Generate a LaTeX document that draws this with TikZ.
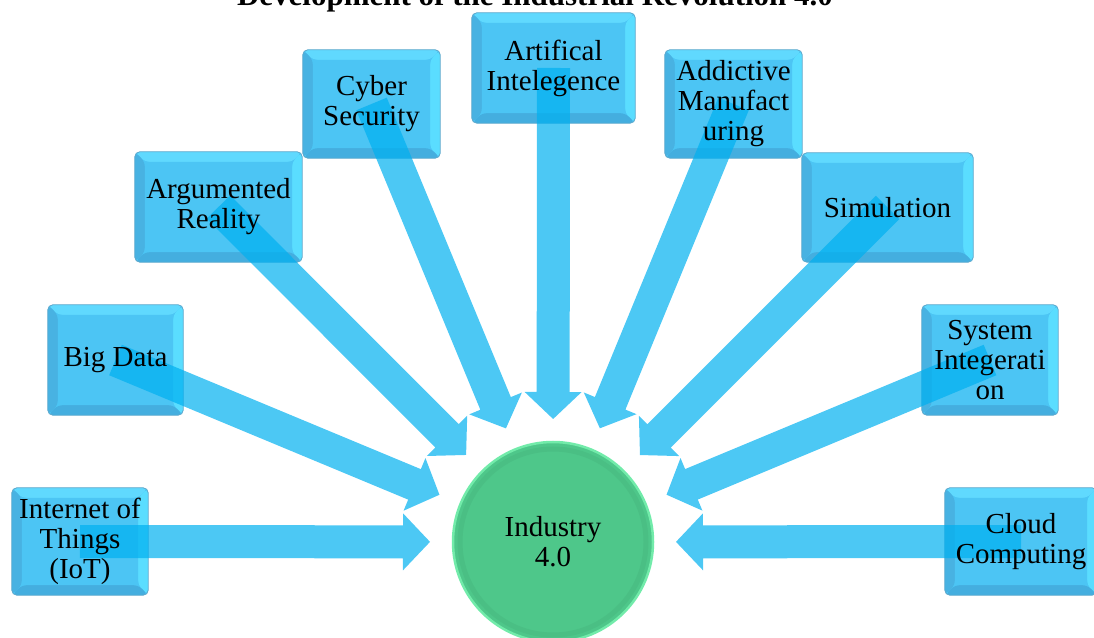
\documentclass[tikz,border=0pt]{standalone}
\usepackage{fontspec}
\setmainfont{Liberation Serif}
\usetikzlibrary{calc}

\pgfdeclarelayer{background}
\pgfsetlayers{background,main}

\definecolor{boxface}{HTML}{4CC5F4}
\definecolor{boxtop}{HTML}{60D9FE}
\definecolor{boxleft}{HTML}{48B2E2}
\definecolor{boxbottom}{HTML}{44AEDF}
\definecolor{boxright}{HTML}{5ADDFF}
\definecolor{boxrim}{HTML}{5FA9CC}
\definecolor{flowblue}{HTML}{00B0F0}
\definecolor{coregreen}{HTML}{4EC78A}
\definecolor{corerim}{HTML}{72EBAA}

\begin{document}
\begin{tikzpicture}[x=1pt,y=1pt]

    \tikzset{
      topic/.style={
        rectangle,
        inner sep=0pt,
        align=center,
        font=\fontsize{29}{30}\selectfont,
      },
      bevel/.style={
        rounded corners=5pt,
        fill=boxface,
        draw=boxrim,
        line width=0.8pt,
        path picture={
          \fill[boxtop] (path picture bounding box.north west) -- (path picture bounding box.north east)
            -- ([shift={(-10pt,-10pt)}]path picture bounding box.north east) -- ([shift={(10pt,-10pt)}]path picture bounding box.north west) -- cycle;
          \fill[boxright] (path picture bounding box.north east) -- (path picture bounding box.south east)
            -- ([shift={(-10pt,10pt)}]path picture bounding box.south east) -- ([shift={(-10pt,-10pt)}]path picture bounding box.north east) -- cycle;
          \fill[boxbottom] (path picture bounding box.south east) -- (path picture bounding box.south west)
            -- ([shift={(10pt,10pt)}]path picture bounding box.south west) -- ([shift={(-10pt,10pt)}]path picture bounding box.south east) -- cycle;
          \fill[boxleft] (path picture bounding box.south west) -- (path picture bounding box.north west)
            -- ([shift={(10pt,-10pt)}]path picture bounding box.north west) -- ([shift={(10pt,10pt)}]path picture bounding box.south west) -- cycle;
          \fill[boxface] ([shift={(10pt,10pt)}]path picture bounding box.south west) rectangle ([shift={(-10pt,-10pt)}]path picture bounding box.north east);
        },
      },
      flow/.style={fill=flowblue, fill opacity=0.7},
    }
    \useasboundingbox (0,0) rectangle (1094,637);

    \node[font=\fontsize{31}{33}\selectfont\bfseries, anchor=base] (title) at (535,631) {Development of the Industrial Revolution 4.0};

    \node[topic, minimum width=136, minimum height=107] (iot) at (80,95.5) {Internet of\\Things\\(IoT)};
    \node[topic, minimum width=135, minimum height=110] (bigdata) at (115.5,277) {Big Data};
    \node[topic, minimum width=167, minimum height=110] (ar) at (218.5,430) {Argumented\\Reality};
    \node[topic, minimum width=137, minimum height=108] (cyber) at (371.5,533) {Cyber\\Security};
    \node[topic, minimum width=163, minimum height=110] (ai) at (553.5,569) {Artifical\\Intelegence};
    \node[topic, minimum width=137, minimum height=108] (am) at (733.5,533) {Addictive\\Manufact\\uring};
    \node[topic, minimum width=171, minimum height=109] (sim) at (887.5,429.5) {Simulation};
    \node[topic, minimum width=136, minimum height=110] (si) at (990,277) {System\\Integerati\\on};
    \node[topic, minimum width=152, minimum height=107] (cloud) at (1021,95.5) {Cloud\\Computing};

    \node[circle, minimum size=200, fill=coregreen, draw=corerim, line width=2.5pt, align=center,
      font=\fontsize{29}{30}\selectfont] (core) at (553,95) {Industry\\4.0};
    \draw[coregreen!80!black, line width=5pt, opacity=0.2] (core.center) circle (93);

    \begin{pgfonlayer}{background}
    \foreach \src in {iot,bigdata,ar,cyber,ai,am,sim,si,cloud}
      \path[bevel] (\src.south west) rectangle (\src.north east);
    \foreach \src in {iot,bigdata,ar,cyber,ai,am,sim,si,cloud}{
      \coordinate (tip) at ($(core.center)!123pt!(\src.center)$);
      \coordinate (neck) at ($(core.center)!150pt!(\src.center)$);
      \fill[flow] ($(\src.center)!16.5pt!90:(tip)$) -- ($(neck)!16.5pt!90:(tip)$) -- ($(neck)!28.5pt!90:(tip)$)
        -- (tip) -- ($(neck)!28.5pt!-90:(tip)$) -- ($(neck)!16.5pt!-90:(tip)$) -- ($(\src.center)!16.5pt!-90:(tip)$) -- cycle;
    }
    \end{pgfonlayer}

\end{tikzpicture}
\end{document}
